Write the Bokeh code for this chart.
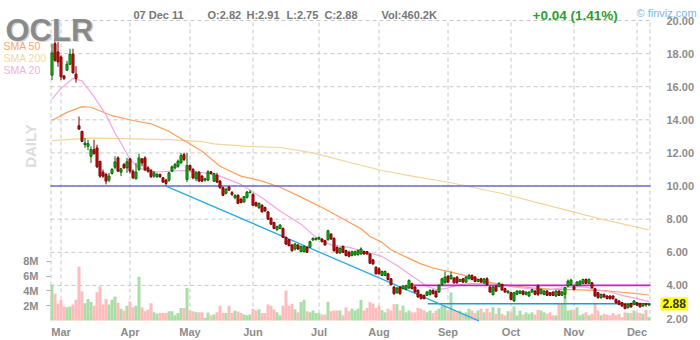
from bokeh.plotting import figure
from bokeh.models import (Range1d, LinearAxis, FixedTicker, Label,
                          NumeralTickFormatter, ColumnDataSource)
from bokeh.embed import file_html
from bokeh.resources import INLINE

# ---------------- data ----------------
symbol = "OCLR"
open_ = [16.7, 18.6, 18.1, 17.8, 16.65, 17.0, 17.36, 17.96, 16.76, 13.64,
         13.3, 12.5, 12.4, 11.8, 12.2, 12.3, 11.5, 10.84, 10.7, 10.36,
         10.76, 11.14, 11.7, 10.84, 11.3, 11.1, 11.64, 10.9, 10.44, 11.0,
         11.64, 11.7, 11.1, 10.94, 10.6, 10.56, 10.7, 10.5, 10.36, 10.36,
         10.9, 11.1, 11.2, 11.4, 11.9, 10.4, 11.24, 11.0, 10.44, 10.84,
         10.6, 10.36, 10.36, 10.86, 10.3, 10.66, 10.3, 9.9, 9.56, 9.94,
         9.6, 9.3, 9.44, 9.2, 9.04, 9.3, 9.6, 9.5, 9.0, 8.7,
         8.84, 8.7, 8.44, 8.06, 7.8, 7.36, 7.44, 7.44, 6.9, 6.76,
         6.44, 6.2, 6.44, 6.04, 6.04, 6.3, 6.3, 6.74, 6.76, 6.8,
         6.8, 6.7, 6.76, 7.1, 6.84, 6.3, 5.96, 6.36, 6.1, 6.0,
         5.8, 5.84, 5.86, 5.9, 6.04, 6.04, 5.9, 5.54, 5.1, 5.0,
         4.6, 4.6, 4.7, 4.4, 3.9, 3.56, 3.9, 3.8, 3.76, 3.84,
         4.1, 3.9, 3.7, 3.44, 3.4, 3.4, 3.44, 3.7, 3.64, 3.6,
         4.04, 4.16, 4.56, 4.4, 4.44, 4.5, 4.24, 4.4, 4.2, 4.4,
         4.6, 4.5, 4.24, 4.4, 4.16, 4.4, 3.9, 3.44, 3.96, 3.92,
         4.06, 3.8, 3.56, 3.56, 3.06, 3.46, 3.52, 3.66, 3.46, 3.36,
         3.6, 3.66, 3.96, 3.5, 3.46, 3.66, 3.56, 3.6, 3.36, 3.66,
         3.4, 3.46, 3.96, 4.06, 3.92, 4.0, 4.06, 4.12, 4.36, 4.12,
         4.16, 3.8, 3.56, 3.26, 3.46, 3.36, 3.36, 3.36, 3.16, 3.06,
         2.96, 2.86, 2.66, 2.9, 2.86, 2.96, 2.9, 2.76, 2.9, 2.82]
high = [18.6, 18.9, 18.8, 17.9, 16.7, 17.56, 18.3, 18.3, 17.24, 14.2,
        13.34, 12.9, 12.8, 12.4, 12.8, 12.5, 11.5, 11.0, 10.8, 10.8,
        11.1, 11.8, 11.8, 11.1, 11.4, 11.7, 11.7, 11.0, 11.4, 11.96,
        11.7, 11.8, 11.2, 11.04, 10.9, 10.8, 10.76, 10.54, 10.44, 10.84,
        11.24, 11.4, 11.6, 12.0, 12.0, 12.0, 11.3, 11.1, 10.9, 10.9,
        10.66, 10.5, 10.96, 10.9, 10.8, 10.8, 10.36, 9.96, 9.9, 10.0,
        9.7, 9.5, 9.5, 9.3, 9.4, 9.7, 9.76, 9.56, 9.06, 9.0,
        8.9, 8.76, 8.5, 8.1, 7.84, 7.6, 7.7, 7.5, 6.96, 6.8,
        6.5, 6.56, 6.5, 6.4, 6.4, 6.36, 6.7, 6.9, 6.9, 6.94,
        6.86, 6.76, 7.36, 7.14, 6.9, 6.36, 6.3, 6.4, 6.16, 6.1,
        6.1, 6.1, 6.16, 6.3, 6.1, 6.06, 5.94, 5.6, 5.14, 5.1,
        4.9, 4.9, 4.76, 4.44, 3.96, 3.9, 3.96, 4.0, 4.04, 4.36,
        4.16, 3.94, 3.76, 3.5, 3.44, 3.66, 3.76, 3.76, 3.7, 4.06,
        4.46, 4.84, 4.6, 4.84, 4.5, 4.56, 4.4, 4.44, 4.56, 4.7,
        4.66, 4.56, 4.4, 4.46, 4.44, 4.5, 3.96, 3.96, 4.0, 4.2,
        4.1, 3.86, 3.7, 3.6, 3.6, 3.7, 3.7, 3.7, 3.64, 3.64,
        3.8, 3.7, 4.06, 3.8, 3.7, 3.7, 3.6, 3.64, 3.7, 3.7,
        3.66, 3.9, 4.36, 4.4, 4.0, 4.26, 4.3, 4.4, 4.42, 4.42,
        4.2, 3.84, 3.6, 3.5, 3.5, 3.4, 3.4, 3.4, 3.2, 3.1,
        3.0, 2.9, 2.9, 2.96, 3.1, 3.0, 2.96, 2.94, 2.94, 2.91]
low = [16.4, 17.5, 17.2, 16.4, 16.4, 16.96, 17.3, 16.8, 16.24, 13.4,
       12.66, 12.3, 12.16, 11.4, 11.9, 11.1, 10.5, 10.5, 10.1, 10.24,
       10.7, 11.0, 10.86, 10.6, 11.04, 10.8, 10.76, 10.42, 10.4, 10.9,
       11.2, 10.9, 10.8, 10.5, 10.5, 10.5, 10.5, 10.2, 10.04, 10.26,
       10.84, 11.0, 11.1, 11.36, 11.5, 10.24, 10.9, 10.4, 10.3, 10.26,
       10.24, 10.26, 10.3, 10.7, 10.24, 10.2, 9.84, 9.4, 9.5, 9.7,
       9.4, 9.2, 8.9, 8.96, 9.0, 9.26, 9.56, 8.8, 8.76, 8.6,
       8.4, 8.44, 7.96, 7.64, 7.4, 7.3, 7.4, 6.86, 6.44, 6.36,
       6.04, 6.1, 6.14, 6.0, 6.0, 5.96, 6.26, 6.7, 6.72, 6.76,
       6.6, 6.4, 6.7, 6.76, 6.04, 5.9, 5.9, 5.96, 5.76, 5.7,
       5.76, 5.8, 5.8, 5.86, 5.86, 5.86, 5.3, 5.24, 4.66, 4.66,
       4.56, 4.56, 4.3, 4.0, 3.44, 3.5, 3.44, 3.76, 3.7, 3.8,
       3.76, 3.56, 3.26, 3.16, 3.16, 3.36, 3.4, 3.46, 3.26, 3.56,
       4.0, 4.1, 4.16, 4.36, 4.1, 4.1, 4.2, 4.16, 4.16, 4.36,
       4.3, 4.2, 4.2, 4.16, 4.1, 4.0, 3.56, 3.4, 3.6, 3.9,
       3.7, 3.56, 3.5, 3.1, 3.0, 3.4, 3.5, 3.4, 3.4, 3.3,
       3.56, 3.4, 3.36, 3.46, 3.4, 3.36, 3.36, 3.36, 3.3, 3.36,
       3.36, 3.2, 3.9, 4.0, 3.7, 3.96, 4.0, 4.1, 4.1, 4.1,
       3.8, 3.3, 3.2, 3.2, 3.26, 3.16, 3.14, 3.14, 2.9, 2.8,
       2.7, 2.56, 2.6, 2.66, 2.8, 2.76, 2.66, 2.7, 2.7, 2.75]
close = [18.04, 17.6, 17.5, 16.6, 16.5, 17.36, 17.96, 16.84, 16.5, 13.44,
         12.7, 12.6, 12.56, 12.2, 11.96, 11.16, 10.6, 10.6, 10.3, 10.6,
         11.0, 11.46, 10.9, 11.04, 11.1, 11.46, 10.9, 10.5, 10.84, 11.7,
         11.4, 11.0, 10.9, 10.56, 10.8, 10.7, 10.56, 10.24, 10.16, 10.8,
         11.16, 11.3, 11.5, 11.84, 11.6, 11.24, 11.0, 10.5, 10.8, 10.3,
         10.3, 10.44, 10.86, 10.76, 10.76, 10.24, 9.9, 9.44, 9.8, 9.76,
         9.5, 9.44, 8.96, 9.0, 9.36, 9.64, 9.64, 8.84, 8.8, 8.96,
         8.44, 8.5, 8.0, 7.7, 7.44, 7.56, 7.64, 6.9, 6.5, 6.4,
         6.1, 6.5, 6.2, 6.36, 6.36, 6.0, 6.64, 6.84, 6.84, 6.9,
         6.64, 6.44, 7.3, 6.8, 6.1, 5.96, 6.24, 6.0, 5.8, 5.76,
         6.04, 6.04, 6.1, 6.2, 5.9, 5.9, 5.34, 5.3, 4.7, 4.7,
         4.84, 4.84, 4.36, 4.04, 3.5, 3.84, 3.5, 3.96, 4.0, 4.3,
         3.8, 3.6, 3.3, 3.2, 3.2, 3.6, 3.7, 3.5, 3.3, 4.0,
         4.4, 4.5, 4.2, 4.6, 4.16, 4.16, 4.36, 4.2, 4.5, 4.6,
         4.36, 4.24, 4.36, 4.2, 4.4, 4.04, 3.6, 3.9, 3.66, 4.12,
         3.72, 3.6, 3.66, 3.16, 3.56, 3.66, 3.66, 3.46, 3.6, 3.6,
         3.74, 3.46, 3.46, 3.76, 3.66, 3.4, 3.4, 3.4, 3.66, 3.4,
         3.6, 3.86, 4.26, 4.32, 3.76, 4.2, 4.26, 4.36, 4.12, 4.36,
         3.86, 3.36, 3.26, 3.46, 3.3, 3.2, 3.2, 3.2, 2.96, 2.86,
         2.76, 2.6, 2.86, 2.7, 3.06, 2.8, 2.7, 2.9, 2.84, 2.88]
volume_m = [4.86, 3.6, 2.25, 2.8, 1.9, 1.8, 1.9, 2.16, 2.8, 7.3,
            3.9, 2.34, 2.9, 2.5, 2.0, 3.8, 4.6, 2.16, 2.9, 2.16,
            2.8, 3.24, 2.4, 1.6, 1.35, 2.0, 2.56, 1.8, 2.0, 5.9,
            1.8, 1.26, 1.44, 2.34, 1.1, 0.9, 1.0, 1.0, 1.0, 1.26,
            1.26, 0.7, 1.0, 1.7, 1.7, 4.4, 1.35, 1.26, 1.1, 1.1,
            1.1, 0.36, 1.08, 0.7, 0.8, 1.1, 2.0, 1.0, 1.0, 2.0,
            1.0, 1.35, 1.2, 1.0, 0.8, 0.7, 0.8, 1.6, 1.35, 1.5,
            1.0, 1.0, 2.16, 2.0, 1.5, 1.1, 0.7, 2.0, 4.05, 2.0,
            2.25, 1.5, 1.1, 2.5, 2.8, 1.26, 1.1, 1.35, 1.0, 1.0,
            0.8, 0.8, 2.5, 1.26, 1.35, 1.35, 1.35, 0.7, 1.8, 1.26,
            1.6, 1.35, 1.6, 2.8, 1.35, 1.7, 2.5, 2.3, 1.7, 2.0,
            1.4, 1.1, 1.6, 1.35, 2.2, 2.2, 1.35, 2.0, 1.1, 1.35,
            1.1, 1.1, 1.7, 1.6, 1.35, 1.1, 1.35, 1.0, 1.35, 1.6,
            2.0, 2.0, 1.35, 3.8, 1.35, 1.1, 1.35, 0.9, 1.1, 1.6,
            1.35, 1.0, 1.35, 1.6, 1.1, 1.6, 1.1, 1.8, 0.9, 1.7,
            0.9, 0.7, 1.26, 1.1, 1.9, 0.7, 1.35, 0.8, 1.1, 0.9,
            1.1, 0.8, 1.44, 1.35, 1.1, 0.9, 1.1, 0.7, 0.7, 2.25,
            2.25, 3.4, 1.35, 1.44, 1.44, 1.8, 0.7, 0.9, 1.1, 0.7,
            0.9, 2.25, 1.35, 0.7, 0.9, 0.8, 0.7, 1.0, 0.7, 0.9,
            0.45, 1.1, 1.0, 1.0, 1.35, 1.1, 1.0, 0.9, 1.44, 0.46]

month_labels = ["Mar", "Apr", "May", "Jun", "Jul", "Aug", "Sep", "Oct", "Nov", "Dec"]
month_start_idx = [3, 26, 46, 67, 89, 109, 132, 153, 174, 195]
price_ticks = [2, 4, 6, 8, 10, 12, 14, 16, 18, 20]
volume_ticks = [2, 4, 6, 8]
volume_tick_labels = ["2M", "4M", "6M", "8M"]

sma20_idx = [0, 3, 7, 10, 14, 18, 21, 23, 26, 29, 31, 35, 40, 44, 50, 56, 63, 70, 76, 83,
             87, 90, 93, 99, 105, 110, 115, 121, 125, 128, 131, 135, 138, 142, 147, 150,
             154, 159, 165, 170, 175, 178, 181, 186, 190, 195, 199]
sma20_val = [15.25, 15.9, 16.5, 16.35, 15.4, 14.3, 13.2, 12.6, 11.6, 11.1, 10.95, 10.85,
             10.9, 10.94, 10.82, 10.6, 10.1, 9.3, 8.5, 7.7, 7.05, 6.7, 6.45, 6.3, 6.0,
             5.75, 5.2, 4.45, 3.95, 3.75, 3.8, 4.0, 4.1, 4.13, 4.1, 4.05, 3.9, 3.8, 3.73,
             3.85, 3.93, 3.9, 3.75, 3.6, 3.4, 3.2, 3.02]
sma50_idx = [0, 5, 10, 13, 20, 27, 33, 39, 44, 50, 56, 63, 70, 76, 83, 90, 96, 103, 106,
             110, 113, 117, 123, 127, 133, 140, 144, 150, 155, 160, 166, 173, 178, 184,
             189, 194, 199]
sma50_val = [13.96, 14.45, 14.8, 14.76, 14.25, 13.96, 13.76, 13.3, 12.75, 12.1, 11.2,
             10.6, 10.3, 9.93, 9.33, 8.7, 8.12, 7.42, 6.95, 6.6, 6.15, 5.8, 5.3, 5.05,
             4.8, 4.5, 4.25, 4.05, 3.95, 3.85, 3.78, 3.75, 3.72, 3.68, 3.6, 3.52, 3.42]
sma200_idx = [0, 13, 27, 39, 50, 54, 65, 76, 87, 99, 110, 120, 133, 150, 166, 183, 199]
sma200_val = [12.75, 12.9, 12.85, 12.8, 12.68, 12.55, 12.4, 12.33, 12.0, 11.44, 10.94,
              10.6, 10.2, 9.55, 8.8, 8.0, 7.35]

level_10 = 10.0
resistance = {"x": [120.7, 199.5], "y": [4.0, 4.0]}
support = {"x": [125.3, 199.5], "y": [2.89, 2.89]}
downtrend = {"x": [38.0, 142.3], "y": [10.0, 1.86]}

# ---------------- geometry of the chart box (pixels -> data) ----------------
PX_PER_BAR = 3.0
PX_PER_PRICE = 300.0 / 18.12
PX_PER_MVOL = 300.0 / 40.5


def dx(sx):
    return (sx - 51.5) / PX_PER_BAR


def dy(sy):
    return 20.0 - (sy - 20.0) / PX_PER_PRICE


X_LEFT, X_RIGHT = dx(50), dx(650)
Y_BOTTOM, Y_TOP = dy(320), dy(20)

# ---------------- figure ----------------
n = len(close)
idx = list(range(n))
up = [c >= o for o, c in zip(open_, close)]
src = ColumnDataSource(dict(
    x=idx, o=open_, h=high, l=low, c=close, v=volume_m,
    top=[max(o, c) for o, c in zip(open_, close)],
    bot=[min(o, c) for o, c in zip(open_, close)],
    fill=["#1fc81f" if u else "#e01010" for u in up],
    edge=["#006400" if u else "#7a0000" for u in up],
    vcol=["#a9dea6" if u else "#ffbcbc" for u in up],
))

p = figure(width=700, height=340, x_range=Range1d(dx(0), dx(700)), y_range=Range1d(dy(340), dy(0)),
           output_backend="svg", toolbar_location=None, x_axis_location=None, y_axis_location=None,
           min_border=0, min_border_left=0, min_border_right=0, min_border_top=0, min_border_bottom=0,
           background_fill_color="white", border_fill_color="white", outline_line_color=None)
p.extra_y_ranges = {"vol": Range1d(-20.0 / PX_PER_MVOL, 320.0 / PX_PER_MVOL)}
for g in p.grid:
    g.visible = False

FONT = "Liberation Sans"
GRAY = "#8c8c8c"

# dashed grid inside the chart box
grid_x = [X_LEFT + 0.17] + month_start_idx + [X_RIGHT - 0.17]
p.segment(x0=grid_x, y0=[Y_BOTTOM] * len(grid_x), x1=grid_x, y1=[Y_TOP] * len(grid_x),
          line_color="#c8c8c8", line_dash="4 3", line_width=1)
p.segment(x0=[X_LEFT] * len(price_ticks), y0=price_ticks, x1=[X_RIGHT] * len(price_ticks),
          y1=price_ticks, line_color="#c8c8c8", line_dash="4 3", line_width=1)


def style_axis(ax):
    ax.axis_line_color = None
    ax.minor_tick_line_color = None
    ax.major_label_text_font = FONT
    ax.major_label_text_font_style = "bold"
    ax.major_label_text_font_size = "11px"
    ax.major_label_text_color = GRAY


# right price axis
ya = LinearAxis(fixed_location=X_RIGHT, ticker=FixedTicker(ticks=price_ticks),
                formatter=NumeralTickFormatter(format="0.00"))
style_axis(ya)
ya.major_tick_line_color = None
ya.major_label_standoff = 10
p.add_layout(ya, "right")

# left volume axis
va = LinearAxis(y_range_name="vol", fixed_location=X_LEFT, ticker=FixedTicker(ticks=volume_ticks),
                major_label_overrides={t: s for t, s in zip(volume_ticks, volume_tick_labels)})
style_axis(va)
va.major_tick_line_color = "#b0b0b0"
va.major_tick_out = 4
va.major_tick_in = 0
va.major_label_standoff = 8
p.add_layout(va, "left")

# bottom month axis (labels sit just under the chart box)
xa = LinearAxis(fixed_location=dy(315), ticker=FixedTicker(ticks=month_start_idx),
                major_label_overrides={t: s for t, s in zip(month_start_idx, month_labels)})
style_axis(xa)
xa.major_tick_line_color = None
xa.major_label_standoff = 4
p.add_layout(xa, "below")

# volume
p.vbar(x="x", width=1.0, top="v", bottom=0, source=src, y_range_name="vol",
       fill_color="vcol", line_color=None)

# moving averages
p.line(sma200_idx, sma200_val, line_color="#f3d59c", line_width=1.2)
p.line(sma50_idx, sma50_val, line_color="#ff9f5a", line_width=1.2)
p.line(sma20_idx, sma20_val, line_color="#f2a6e2", line_width=1.2)

# trend lines
p.line([X_LEFT, X_RIGHT], [level_10, level_10], line_color="#6c6cd0", line_width=1.5)
p.line(resistance["x"], resistance["y"], line_color="#c026c0", line_width=1.6)
p.line(support["x"], support["y"], line_color="#1d9be0", line_width=1.4)
p.line(downtrend["x"], downtrend["y"], line_color="#29a8e8", line_width=1.3)

# candles
p.segment(x0="x", y0="l", x1="x", y1="h", source=src, line_color="edge", line_width=1)
p.vbar(x="x", width=0.67, top="top", bottom="bot", source=src,
       fill_color="fill", line_color="edge", line_width=1)


# ---------------- texts ----------------
def lab(text, sx, sy, size, color, style="bold", align="left", baseline="alphabetic", angle=0):
    p.add_layout(Label(x=dx(sx), y=dy(sy), text=text, text_font=FONT, text_font_size=size,
                       text_font_style=style, text_color=color, text_align=align,
                       text_baseline=baseline, angle=angle))


lab(symbol, 6.5, 31, "31px", "#d8d8d8")
lab(symbol, 5, 29.5, "31px", "#8a8a8a")
lab("07 Dec 11", 133, 14, "11px", "#767676")
lab("O:2.82", 207, 14, "11px", "#767676")
lab("H:2.91", 246, 14, "11px", "#767676")
lab("L:2.75", 286, 14, "11px", "#767676")
lab("C:2.88", 324, 14, "11px", "#767676")
lab("Vol:460.2K", 381, 14, "11px", "#767676")
lab("+0.04 (1.41%)", 532, 15, "13.5px", "#2e9e2e")
lab("\u00a9 finviz.com", 636, 12, "11px", "#7bb8e6", style="normal")
lab("SMA 50", 3, 45.7, "10.5px", "#ffa366", style="normal")
lab("SMA 200", 3, 57.5, "10.5px", "#f3d7a2", style="normal")
lab("SMA 20", 3, 69.5, "10.5px", "#f2afe4", style="normal")
lab("DAILY", 30, 145.5, "15px", "#dcdcdc", align="center", baseline="middle", angle=1.5708)

p.add_layout(Label(x=dx(660), y=close[-1], text="%.2f" % close[-1], text_font=FONT,
                   text_font_size="12px", text_font_style="bold", text_color="#333333",
                   text_baseline="middle", background_fill_color="#ffff00", padding=2))

open("out.html", "w").write(file_html(p, INLINE))
